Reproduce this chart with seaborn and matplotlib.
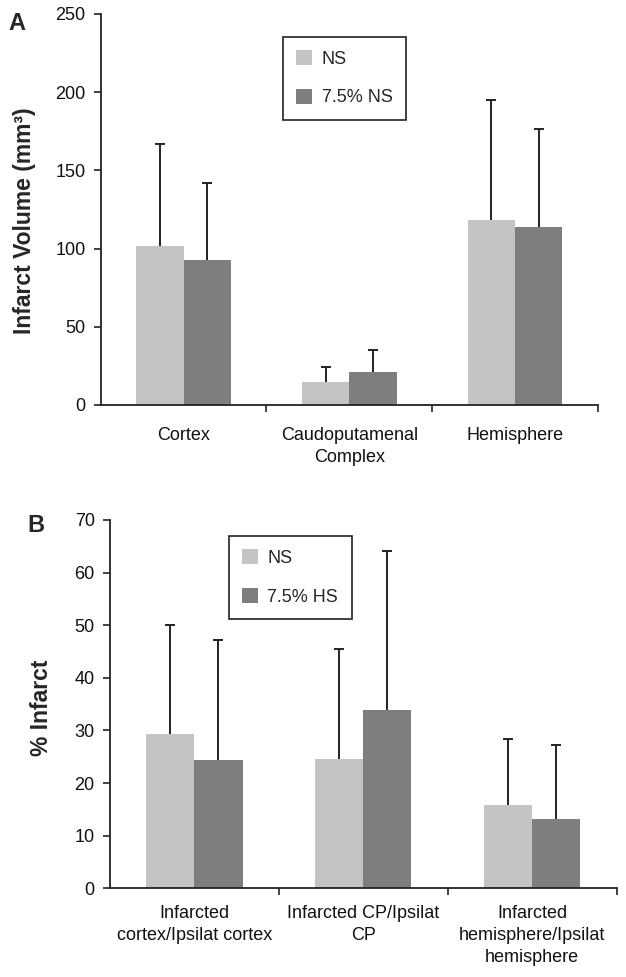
import pandas as pd
import seaborn as sns
import matplotlib.pyplot as plt
from matplotlib.ticker import FixedLocator

# Panel A data: infarct volume (mm3)
regions_a = ['Cortex', 'Caudoputamenal\nComplex', 'Hemisphere']
groups_a = ['NS', '7.5% NS']
mean_a_ns = [101.7, 14.9, 118.3]
mean_a_hs = [92.7, 21.3, 114.0]
err_a_ns = [65.3, 9.2, 76.7]
err_a_hs = [49.0, 13.9, 62.7]

# Panel B data: % infarct
regions_b = ['Infarcted\ncortex/Ipsilat cortex', 'Infarcted CP/Ipsilat\nCP',
             'Infarcted\nhemisphere/Ipsilat\nhemisphere']
groups_b = ['NS', '7.5% HS']
mean_b_ns = [29.3, 24.6, 15.8]
mean_b_hs = [24.4, 33.8, 13.1]
err_b_ns = [20.7, 20.9, 12.6]
err_b_hs = [22.7, 30.3, 14.1]

sns.set_style('ticks')
plt.rcParams['font.family'] = ['Liberation Sans', 'DejaVu Sans']

colors = ['#c4c4c4', '#7e7e7e']
ink = '#222222'


def draw_panel(ax, regions, groups, m1, m2, e1, e2, ylim, yticks, ylabel,
               legend_xy, xpad):
    df = pd.DataFrame({
        'region': regions * 2,
        'group': [groups[0]] * 3 + [groups[1]] * 3,
        'value': m1 + m2,
    })
    sns.barplot(data=df, x='region', y='value', hue='group', order=regions,
                hue_order=groups, palette=colors, width=0.57, saturation=1,
                errorbar=None, linewidth=0, ax=ax)
    # upper-only error bars at bar centers
    errs = e1 + e2
    for patch, err in zip(ax.patches[:6], errs):
        x = patch.get_x() + patch.get_width() / 2
        h = patch.get_height()
        _, caps, _ = ax.errorbar(x, h, yerr=[[0], [err]], fmt='none',
                                 ecolor=ink, elinewidth=1.4, capsize=3.4,
                                 capthick=1.4)
        caps[0].set_visible(False)

    ax.set_xlim(-0.5, 2.5)
    ax.set_ylim(*ylim)
    ax.set_yticks(yticks)
    ax.xaxis.set_minor_locator(FixedLocator([0.5, 1.5, 2.5]))
    ax.tick_params(axis='x', which='major', length=0, pad=xpad, labelsize=13,
                   colors='#111111')
    ax.tick_params(axis='x', which='minor', length=5, width=1.2, color=ink)
    ax.tick_params(axis='y', length=5, width=1.2, color=ink, pad=6,
                   labelsize=13, labelcolor='#111111')
    for lbl in ax.get_xticklabels():
        lbl.set_linespacing(1.4)
    ax.set_xlabel('')
    ax.set_ylabel(ylabel, fontsize=16.5, fontweight='bold')
    for s in ['top', 'right']:
        ax.spines[s].set_visible(False)
    for s in ['left', 'bottom']:
        ax.spines[s].set_linewidth(1.3)
        ax.spines[s].set_color(ink)

    leg = ax.legend(loc='upper left', bbox_to_anchor=legend_xy, fontsize=13,
                    handlelength=0.9, handleheight=0.9, labelspacing=1.15,
                    borderpad=0.75, borderaxespad=0, handletextpad=0.5,
                    fancybox=False, framealpha=1, edgecolor=ink, title=None)
    leg.get_frame().set_linewidth(1.2)


fig = plt.figure(figsize=(6.26, 9.77), dpi=100)
ax_a = fig.add_axes([0.161, 0.5855, 0.794, 0.4002])
ax_b = fig.add_axes([0.1757, 0.0908, 0.8093, 0.377])

draw_panel(ax_a, regions_a, groups_a, mean_a_ns, mean_a_hs, err_a_ns, err_a_hs,
           (0, 250), [0, 50, 100, 150, 200, 250], 'Infarct Volume (mm³)',
           (0.366, 0.942), 16)
draw_panel(ax_b, regions_b, groups_b, mean_b_ns, mean_b_hs, err_b_ns, err_b_hs,
           (0, 70), [0, 10, 20, 30, 40, 50, 60, 70], '% Infarct',
           (0.234, 0.957), 12)

ax_a.yaxis.set_label_coords(25 / 626, 0.5, transform=fig.transFigure)
ax_a.yaxis.label.set_verticalalignment('center')
ax_b.yaxis.set_label_coords(41 / 626, 0.5, transform=fig.transFigure)
ax_b.yaxis.label.set_verticalalignment('center')
ax_a.yaxis.set_label_coords(25 / 626, 1 - 221 / 977, transform=fig.transFigure)
ax_b.yaxis.set_label_coords(41 / 626, 1 - 708 / 977, transform=fig.transFigure)

fig.text(8 / 626, 1 - 23 / 977, 'A', fontsize=17, fontweight='bold',
         va='center', ha='left')
fig.text(27 / 626, 1 - 525 / 977, 'B', fontsize=17, fontweight='bold',
         va='center', ha='left')

fig.savefig('out.png', dpi=100, facecolor='white')
